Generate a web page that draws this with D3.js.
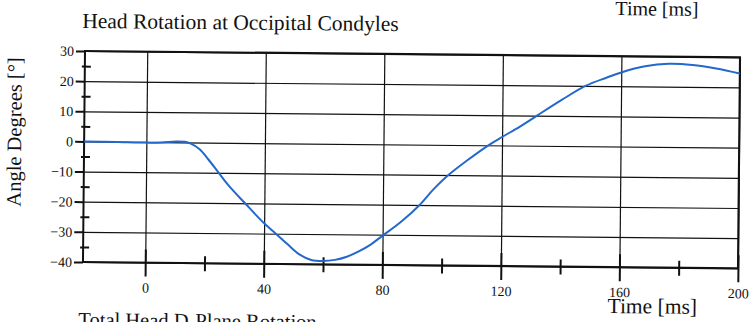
<!DOCTYPE html>
<html>
<head>
<meta charset="utf-8">
<script src="https://cdn.jsdelivr.net/npm/d3@7"></script>
<style>
  html, body { margin: 0; padding: 0; background: #fff; }
  svg { display: block; }
  text { font-family: "Liberation Serif", "Times New Roman", serif; fill: #111; }
</style>
</head>
<body>
<svg class="chart" width="755" height="322"></svg>
<script>
// data
var timeMs   = [-21, -10, 0, 5, 10, 13, 15, 18, 21, 24.5, 28, 33.5, 40, 44, 48, 52, 56, 60, 64, 68, 72, 76, 80, 86, 92.4, 97, 102, 108, 115.4, 120, 126, 131.7, 140, 148, 155, 160, 168, 176, 184, 192, 200];
var angleDeg = [0, -0.1, -0.2, -0.1, 0.3, 0.2, -0.4, -2.2, -5.6, -10, -14.3, -20, -26.6, -30, -33.5, -36.8, -38.6, -38.9, -38.5, -37.4, -35.6, -33.3, -30.3, -25.8, -20, -14.8, -10, -5.3, 0, 2.8, 6.3, 10, 15.3, 20, 22.8, 24.6, 26.7, 27.6, 27.3, 26.2, 24.6];
var xMajor = [0, 40, 80, 120, 160, 200];
var xMinor = [20, 60, 100, 140, 180];
var yMajor = [30, 20, 10, 0, -10, -20, -30, -40];
var yMinor = [25, 15, 5, -5, -15, -25, -35];

var padL = 85, padT = 51, plotW = 655, plotH = 211;

var svg = d3.select("svg.chart");
// the scan is a little tilted
var g = svg.append("g").attr("transform", "rotate(0.55," + padL + "," + padT + ")");

var x = d3.scaleLinear().domain([-21, 200]).range([padL, padL + plotW]),
    y = d3.scaleLinear().domain([-40, 30]).range([padT + plotH, padT]);

function ink(s, w) {
  s.select(".domain").remove();
  s.selectAll("line").attr("stroke", "#111").attr("stroke-width", w);
}

// grid
g.append("g").attr("transform", "translate(" + padL + ",0)")
  .call(d3.axisLeft(y).tickValues(yMajor).tickSize(-plotW).tickFormat(""))
  .call(ink, 1.2);
g.append("g").attr("transform", "translate(0," + (padT + plotH) + ")")
  .call(d3.axisBottom(x).tickValues(xMajor).tickSize(-plotH).tickFormat(""))
  .call(ink, 1.2);

// frame
g.append("rect")
  .attr("x", x(-21)).attr("y", y(30))
  .attr("width", x(200) - x(-21)).attr("height", y(-40) - y(30))
  .attr("fill", "none").attr("stroke", "#111").attr("stroke-width", 2);

// y ticks
g.append("g").attr("transform", "translate(" + padL + ",0)")
  .call(d3.axisLeft(y).tickValues(yMajor).tickSize(9).tickPadding(2).tickFormat(d3.format("d")))
  .call(ink, 2)
  .call(function(s){
    s.selectAll("text").style("font-size", "14px").style("font-family", "Liberation Serif").attr("fill", "#111");
  });
g.append("g").attr("transform", "translate(" + (padL + 6) + ",0)")
  .call(d3.axisLeft(y).tickValues(yMinor).tickSize(9).tickFormat(""))
  .call(ink, 2);

// x ticks
g.append("g").attr("transform", "translate(0," + (padT + plotH) + ")")
  .call(d3.axisBottom(x).tickValues(xMajor).tickSize(14).tickPadding(6).tickFormat(d3.format("d")))
  .call(ink, 2)
  .call(function(s){
    s.selectAll("text").style("font-size", "14px").style("font-family", "Liberation Serif").attr("fill", "#111");
  });
g.append("g").attr("transform", "translate(0," + (padT + plotH) + ")")
  .call(d3.axisTop(x).tickValues(xMajor).tickSize(13).tickFormat(""))
  .call(ink, 2);
g.append("g").attr("transform", "translate(0," + (padT + plotH - 7) + ")")
  .call(d3.axisBottom(x).tickValues(xMinor).tickSize(15).tickFormat(""))
  .call(ink, 2);

// curve
var pts = timeMs.map(function(t, i){ return [t, angleDeg[i]]; });
g.append("path")
  .datum(pts)
  .attr("fill", "none")
  .attr("stroke", "#2368cc")
  .attr("stroke-width", 2)
  .attr("d", d3.line().x(function(d){ return x(d[0]); }).y(function(d){ return y(d[1]); }).curve(d3.curveCatmullRom.alpha(0.5)));

// texts
g.append("text").attr("x", 82).attr("y", 28).style("font-size", "21.5px")
  .text("Head Rotation at Occipital Condyles");
g.append("text").attr("x", 615).attr("y", 10).style("font-size", "20px")
  .text("Time [ms]");
g.append("text").attr("x", 610).attr("y", 308).style("font-size", "21.5px")
  .text("Time [ms]");
g.append("text").attr("x", 81).attr("y", 326.5).style("font-size", "20.5px")
  .text("Total Head D-Plane Rotation");
g.append("text")
  .attr("transform", "translate(22,132.6) rotate(-90)")
  .attr("text-anchor", "middle")
  .style("font-size", "20.5px")
  .text("Angle Degrees [°]");
</script>
</body>
</html>
